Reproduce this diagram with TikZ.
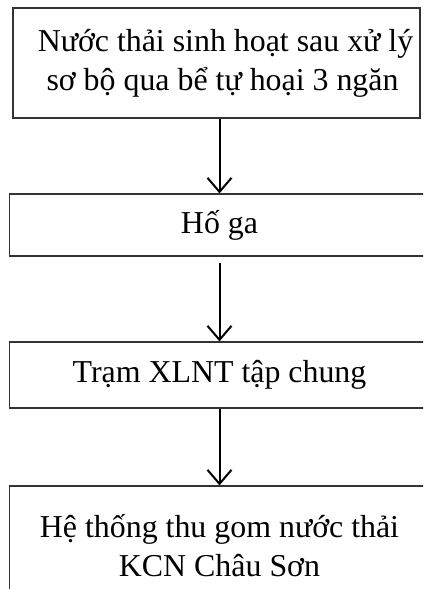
\documentclass[tikz,border=0pt]{standalone}
\usepackage{fontspec}
\setmainfont{Liberation Serif}
\usetikzlibrary{arrows.meta,positioning}

\begin{document}
\begin{tikzpicture}[x=1bp,y=1bp,>={Straight Barb[length=14bp,width=24bp]}]
\tikzset{box/.style={draw=black!80,line width=1.2bp,align=center,inner sep=0pt,font=\fontsize{32}{39}\selectfont},
flow/.style={->,line width=2bp}}
\clip (0,0) rectangle (423,589);

\node[box,minimum width=407bp,minimum height=110bp] (nuoc) at (216.5,526) {\hspace*{18bp}Nước thải sinh hoạt sau xử lý\\\hspace*{12bp}sơ bộ qua bể tự hoại 3 ngăn};
\node[box,minimum width=420bp,minimum height=62bp] (hoga) at (219.5,364) {Hố ga};
\node[box,minimum width=420bp,minimum height=66bp] (tram) at (219.5,214) {Trạm XLNT tập chung};
\node[box,minimum width=420bp,minimum height=120bp] (kcn) at (219.5,43) {Hệ thống thu gom nước thải\\KCN Châu Sơn};

\draw[flow] (nuoc.south -| hoga.north) -- (hoga.north);
\draw[flow,shorten <=6bp] (hoga.south) -- (tram.north);
\draw[flow] (tram.south) -- (kcn.north);

\end{tikzpicture}
\end{document}
